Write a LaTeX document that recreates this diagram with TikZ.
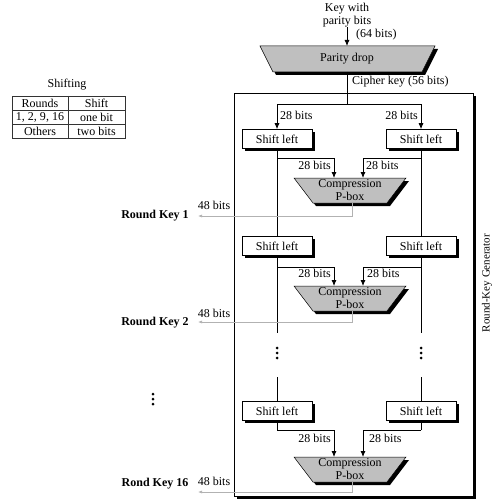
\documentclass[tikz,border=0pt]{standalone}
\usepackage{fontspec}
\setmainfont{Liberation Serif}
\usetikzlibrary{arrows.meta,shadows}
\begin{document}
\begin{tikzpicture}[x=1pt,y=-1pt,
  txt/.style={font=\fontsize{12}{13}\selectfont, inner sep=0pt},
  btxt/.style={font=\fontsize{12}{13}\selectfont\bfseries, inner sep=0pt},
  ln/.style={line width=0.8pt},
  arr/.style={line width=0.8pt, -{Latex[length=6pt,width=5pt]}},
  outarr/.style={draw=black!30, line width=0.6pt, -{Latex[length=4pt,width=3pt]}},
  shbox/.style={draw, fill=white, line width=0.6pt, minimum width=70pt, minimum height=19pt, inner sep=0pt,
    font=\fontsize{12}{13}\selectfont,
    drop shadow={shadow xshift=2.5pt, shadow yshift=-2.5pt, fill=black, opacity=1}},
  trapfill/.style={fill=black!25, draw=black, line width=0.5pt},
  trapshadow/.style={fill=black},
  tab/.style={draw=black!80, line width=0.6pt},
  dot/.style={fill=black, circle, inner sep=0pt, minimum size=3pt}
]
\useasboundingbox (0,0) rectangle (496,500);
\fill[white] (0,0) rectangle (496,500);

% ---------- big generator box ----------
\fill[black] (237,96) rectangle (476,499);
\draw[fill=white, line width=0.7pt] (234,93) rectangle (473,496);
\node[font=\fontsize{11}{12}\selectfont, inner sep=0pt, rotate=90] (rkg) at (487,283) {Round-Key Generator};

% ---------- top input ----------
\node[txt, align=center] (keytxt) at (347,15) {Key with\\parity bits};
\node[txt, anchor=west] (k64) at (356,35) {(64 bits)};
\coordinate (pdt) at (347,46);
\coordinate (pdb) at (347,72);
\draw[arr] (keytxt.south) -- (pdt);
\fill[trapshadow] (263,49) -- (438,49) -- (425,75) -- (276,75) -- cycle;
\draw[trapfill] (260,46) -- (435,46) -- (422,72) -- (273,72) -- cycle;
\node[txt] (pd) at (347,59) {Parity drop};
\node[txt, anchor=west] (ck) at (352,82) {Cipher key (56 bits)};
\coordinate (split) at (347,104);
\draw[ln] (pdb) -- (split);

% ---------- shift boxes ----------
\node[shbox] (s1L) at (277,139) {Shift left};
\node[shbox] (s1R) at (421,139) {Shift left};
\node[shbox] (s2L) at (277,246) {Shift left};
\node[shbox] (s2R) at (421,246) {Shift left};
\node[shbox] (s3L) at (277,411) {Shift left};
\node[shbox] (s3R) at (421,411) {Shift left};

\draw[arr] (split) -| (s1L.north);
\draw[arr] (split) -| (s1R.north);
\node[txt, anchor=west] (t0L) at (280,115) {28 bits};
\node[txt, anchor=east] (t0R) at (418,115) {28 bits};

% ---------- compression boxes ----------
\foreach \T/\n in {178/1,286/2,457/3}{
  \fill[trapshadow] (297,\T+3) -- (409,\T+3) -- (390,\T+28) -- (316,\T+28) -- cycle;
  \draw[trapfill] (294,\T) -- (406,\T) -- (387,\T+25) -- (313,\T+25) -- cycle;
  \node[txt, align=center] (cp\n) at (350,\T+12.5) {Compression\\P-box};
  \coordinate (cp\n tl) at (334,\T);
  \coordinate (cp\n tr) at (363,\T);
  \coordinate (cp\n b) at (352,\T+25);
}

% stage 1
\draw[ln] (s1L) -- (s2L);
\draw[ln] (s1R) -- (s2R);
\coordinate (b1L) at (277,158);
\coordinate (b1R) at (421,158);
\draw[arr] (b1L) -| (cp1tl);
\draw[arr] (b1R) -| (cp1tr);
\node[txt, anchor=east] (t1L) at (331,165) {28 bits};
\node[txt, anchor=west] (t1R) at (366,165) {28 bits};
\coordinate (o1) at (198,216);
\draw[outarr] (cp1b) |- (o1);
\node[txt] (w1) at (214,205) {48 bits};
\node[btxt] (rk1) at (155,216) {Round Key 1};

% stage 2
\coordinate (e2L) at (277,333);
\coordinate (e2R) at (421,333);
\draw[ln] (s2L) -- (e2L);
\draw[ln] (s2R) -- (e2R);
\coordinate (b2L) at (277,267);
\coordinate (b2R) at (421,267);
\draw[arr] (b2L) -| (cp2tl);
\draw[arr] (b2R) -| (cp2tr);
\node[txt, anchor=east] (t2L) at (331,273) {28 bits};
\node[txt, anchor=west] (t2R) at (367,273) {28 bits};
\coordinate (o2) at (198,322);
\draw[outarr] (cp2b) |- (o2);
\node[txt] (w2) at (214,313) {48 bits};
\node[btxt] (rk2) at (155,323) {Round Key 2};

% dots
\foreach \yy/\k in {348/a,353/b,358/c}{
  \node[dot] (dL\k) at (277,\yy) {};
  \node[dot] (dR\k) at (421,\yy) {};
}
\foreach \yy/\k in {394/a,399/b,404/c}{
  \node[dot] (dM\k) at (153,\yy) {};
}

% stage 3
\coordinate (f3L) at (277,377);
\coordinate (f3R) at (421,377);
\draw[ln] (f3L) -- (s3L);
\draw[ln] (f3R) -- (s3R);
\coordinate (b3L) at (277,430);
\coordinate (b3R) at (421,430);
\draw[ln] (s3L) -- (b3L);
\draw[ln] (s3R) -- (b3R);
\draw[arr] (b3L) -| (cp3tl);
\draw[arr] (b3R) -| (cp3tr);
\node[txt, anchor=east] (t3L) at (331,438) {28 bits};
\node[txt, anchor=west] (t3R) at (369,438) {28 bits};
\coordinate (o3) at (198,492);
\draw[outarr] (cp3b) |- (o3);
\node[txt] (w3) at (214,481) {48 bits};
\node[btxt] (rk3) at (155,484) {Rond Key 16};

% ---------- shifting table ----------
\node[txt] (tabtitle) at (67,85) {Shifting};
\draw[tab] (12,96) rectangle (125,138);
\draw[tab] (12,110) -- (125,110);
\draw[tab] (12,124) -- (125,124);
\draw[tab] (68,96) -- (68,138);
\node[txt] (c11) at (40,103) {Rounds};
\node[txt] (c12) at (96.5,103) {Shift};
\node[txt] (c21) at (40,117) {1, 2, 9, 16};
\node[txt] (c22) at (96.5,117) {one bit};
\node[txt] (c31) at (40,131) {Others};
\node[txt] (c32) at (96.5,131) {two bits};
\end{tikzpicture}
\end{document}
